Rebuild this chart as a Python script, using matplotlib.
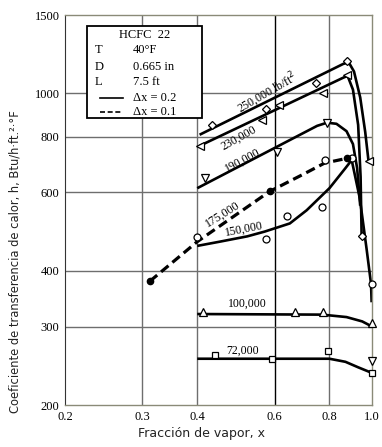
import matplotlib
matplotlib.use("Agg")
import matplotlib.pyplot as plt
from matplotlib.patches import Rectangle
from matplotlib.lines import Line2D

# fitted curves
x_250 = [0.405, 0.86, 0.885, 0.91, 0.94, 0.965, 0.982]
h_250 = [808, 1165, 1175, 1120, 980, 820, 705]
x_230 = [0.405, 0.86, 0.88, 0.905, 0.93, 0.942, 0.947]
h_230 = [763, 1085, 1095, 1020, 850, 650, 480]
x_190 = [0.40, 0.75, 0.79, 0.83, 0.875, 0.905, 0.925, 0.94]
h_190 = [613, 846, 860, 855, 823, 770, 680, 560]
x_175 = [0.312, 0.40, 0.585, 0.70, 0.78, 0.875, 0.90]
h_175 = [379, 465, 603, 660, 698, 715, 712]
x_150 = [0.40, 0.45, 0.52, 0.57, 0.65, 0.71, 0.80, 0.87, 0.899, 0.938, 0.972, 0.995, 0.998]
h_150 = [455, 465, 478, 490, 511, 547, 613, 680, 709, 582, 448, 374, 340]
x_100 = [0.40, 0.77, 0.875, 0.95, 1.0]
h_100 = [320, 319, 315, 308, 300]
x_72 = [0.40, 0.80, 0.87, 0.93, 1.0]
h_72 = [254, 254, 250, 243, 236]

# measured points
px_250 = [0.432, 0.573, 0.745, 0.875, 0.947]
ph_250 = [851, 925, 1055, 1180, 480]
px_230 = [0.405, 0.561, 0.613, 0.772, 0.875, 0.982]
ph_230 = [763, 873, 944, 1000, 1098, 705]
px_190 = [0.416, 0.607, 0.789, 1.0]
ph_190 = [646, 739, 860, 251]
px_175_dot = [0.312, 0.585, 0.875]
ph_175_dot = [379, 603, 715]
px_175 = [0.78, 0.90]
ph_175 = [708, 716]
px_150 = [0.40, 0.573, 0.639, 0.768, 0.998]
ph_150 = [477, 472, 530, 555, 374]
px_100 = [0.412, 0.667, 0.772, 1.0]
ph_100 = [323, 323, 323, 305]
px_72 = [0.438, 0.591, 0.793, 1.0]
ph_72 = [259, 254, 264, 236]

x_ticks = [0.2, 0.3, 0.4, 0.6, 0.8, 1.0]
y_ticks = [200, 300, 400, 600, 800, 1000, 1500]

serif = "Liberation Serif"

fig = plt.figure(figsize=(3.82, 4.47), dpi=100)
ax = fig.add_axes([65 / 382, 1 - 405 / 447, 307 / 382, 390 / 447])
ax.set_xscale("log")
ax.set_yscale("log")
ax.set_xlim(0.2, 1.0)
ax.set_ylim(200, 1500)

grid_c = "#6e6e6e"
for xv in x_ticks[1:-1]:
    ax.axvline(xv, color="black" if xv == 0.6 else grid_c, lw=1.0, zorder=0)
for yv in y_ticks[1:-1]:
    ax.axhline(yv, color=grid_c, lw=1.0, zorder=0)
for s in ["top", "right", "bottom"]:
    ax.spines[s].set_color("#8a8a78")
    ax.spines[s].set_linewidth(1.0)
ax.spines["left"].set_color("#333333")

ax.set_xticks(x_ticks)
ax.set_xticklabels(["0.2", "0.3", "0.4", "0.6", "0.8", "1.0"], fontfamily=serif, fontsize=9)
ax.set_yticks(y_ticks)
ax.set_yticklabels([str(v) for v in y_ticks], fontfamily=serif, fontsize=9)
ax.minorticks_off()
ax.tick_params(length=0, pad=4)

lw = 1.9
for xs, hs in [(x_250, h_250), (x_230, h_230), (x_190, h_190), (x_150, h_150),
               (x_100, h_100), (x_72, h_72)]:
    ax.plot(xs, hs, color="black", lw=lw, solid_capstyle="butt", zorder=2, clip_on=False)
ax.plot(x_175, h_175, color="black", lw=lw + 0.4, ls=(0, (3, 1.6)), zorder=2)

mk = dict(ls="none", mfc="white", mec="black", mew=0.9, zorder=3, clip_on=False)
ax.plot(px_250, ph_250, marker="D", ms=4.5, **mk)
ax.plot(px_230, ph_230, marker="<", ms=6, **mk)
ax.plot(px_190, ph_190, marker="v", ms=6, **mk)
ax.plot(px_175, ph_175, marker="o", ms=5, **mk)
ax.plot(px_150, ph_150, marker="o", ms=5, **mk)
ax.plot(px_100, ph_100, marker="^", ms=6, **mk)
ax.plot(px_72, ph_72, marker="s", ms=5, **mk)
ax.plot(px_175_dot, ph_175_dot, ls="none", marker="o", ms=4.5, color="black", zorder=3)

lbl = dict(fontfamily=serif, fontsize=8.5, ha="center", va="center", rotation_mode="anchor")
ax.text(0.578, 1003, "250,000 lb/ft$^2$", rotation=30, **lbl)
ax.text(0.497, 795, "230,000", rotation=29, **lbl)
ax.text(0.508, 708, "190,000", rotation=28, **lbl)
ax.text(0.457, 535, "175,000", rotation=32, **lbl)
ax.text(0.510, 496, "150,000", rotation=11, **lbl)
ax.text(0.519, 338, "100,000", rotation=0, **lbl)
ax.text(0.508, 265, "72,000", rotation=0, **lbl)

# legend box
ax.add_patch(Rectangle((0.0717, 0.736), 0.3743, 0.236, transform=ax.transAxes,
                       facecolor="white", edgecolor="black", lw=1.3, zorder=5))
leg = dict(transform=ax.transAxes, fontfamily=serif, fontsize=9, va="center", zorder=6)
ax.text(0.26, 0.949, "HCFC  22", ha="center", **leg)
rows = [("T", "40°F", 0.910), ("D", "0.665 in", 0.867), ("L", "7.5 ft", 0.828)]
for k, v, yy in rows:
    ax.text(0.097, yy, k, ha="left", **leg)
    ax.text(0.221, yy, v, ha="left", **leg)
ax.text(0.221, 0.787, "Δx = 0.2", ha="left", **leg)
ax.text(0.221, 0.751, "Δx = 0.1", ha="left", **leg)
ax.add_line(Line2D([0.114, 0.189], [0.787, 0.787], transform=ax.transAxes,
                   color="black", lw=1.2, zorder=6))
ax.add_line(Line2D([0.114, 0.189], [0.751, 0.751], transform=ax.transAxes,
                   color="black", lw=1.2, ls=(0, (3, 1.6)), zorder=6))

fig.text(202 / 382, 1 - 433 / 447, "Fracción de vapor, x", ha="center", va="center",
         fontsize=9, color="#222222")
fig.text(15 / 382, 1 - 262 / 447, "Coeficiente de transferencia de calor, h, Btu/h·ft.²·°F",
         rotation=90, ha="center", va="center", fontsize=8.3, color="#222222")

fig.savefig("out.png", dpi=100)
